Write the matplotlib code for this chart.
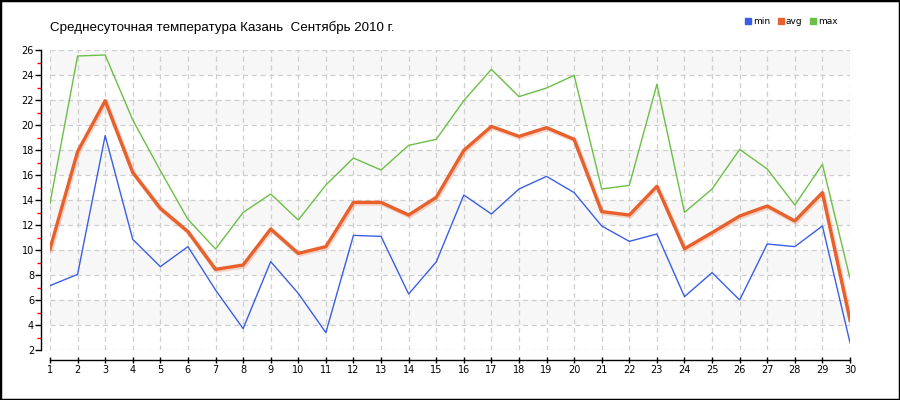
import matplotlib
matplotlib.use("Agg")
import matplotlib.pyplot as plt
from matplotlib.patches import Rectangle
from matplotlib.lines import Line2D
import matplotlib.patheffects as pe

days = list(range(1, 31))
t_min = [7.15, 8.05, 19.15, 10.85, 8.67, 10.27, 6.8, 3.71, 9.07, 6.53,
         3.39, 11.17, 11.09, 6.48, 9.04, 14.4, 12.88, 14.88, 15.89, 14.59,
         11.92, 10.69, 11.28, 6.27, 8.19, 6.0, 10.48, 10.27, 11.92, 2.59]
t_avg = [10.08, 17.87, 21.94, 16.2, 13.33, 11.47, 8.45, 8.8, 11.68, 9.73,
         10.27, 13.81, 13.81, 12.8, 14.21, 17.97, 19.89, 19.09, 19.79, 18.85,
         13.07, 12.8, 15.1, 10.1, 11.39, 12.72, 13.52, 12.32, 14.59, 4.4]
t_max = [13.73, 25.52, 25.6, 20.4, 16.35, 12.45, 10.08, 13.0, 14.48, 12.4,
         15.2, 17.36, 16.4, 18.37, 18.85, 21.95, 24.45, 22.27, 22.96, 23.97,
         14.88, 15.17, 23.25, 13.01, 14.88, 18.05, 16.48, 13.6, 16.85, 7.73]
series_names = ["min", "avg", "max"]
title = "Среднесуточная температура Казань  Сентябрь 2010 г."

c_min, c_avg, c_max = "#3a5fe6", "#e8602c", "#6cbf46"

fig = plt.figure(figsize=(9, 4), dpi=100)
ax = fig.add_axes([50/900, 50/400, 800/900, 300/400])
ax.set_xlim(1, 30)
ax.set_ylim(2, 26)

for lo in range(4, 26, 4):
    ax.axhspan(lo, lo + 2, color="#f7f7f7", zorder=0, lw=0)

ax.set_xticks(days)
ax.set_yticks(range(2, 27, 2))
ax.set_yticks(range(3, 26, 2), minor=True)
ax.grid(True, which="major", color="#cfcfcf", linestyle=(0, (4, 3)), linewidth=0.9)
ax.set_axisbelow(True)

ax.plot(days, t_min, color=c_min, lw=1.0, zorder=3)
ax.plot(days, t_max, color=c_max, lw=1.0, zorder=3)
ax.plot(days, t_avg, color=c_avg, lw=2.4, zorder=4, solid_joinstyle="round",
        path_effects=[pe.SimpleLineShadow(offset=(0.7, -0.9), shadow_color=c_avg, alpha=0.25, linewidth=3.2),
                      pe.Normal()])

for s in ["top", "right"]:
    ax.spines[s].set_visible(False)
ax.spines["left"].set_position(("outward", 6.5))
ax.spines["bottom"].set_position(("outward", 7.2))
ax.spines["left"].set_linewidth(1.0)
ax.spines["bottom"].set_linewidth(1.0)

ax.tick_params(axis="y", which="major", direction="out", length=4, width=1, labelsize=7, pad=1, colors="black")
ax.tick_params(axis="y", which="minor", direction="out", length=3, width=1, color="red")
ax.tick_params(axis="x", which="major", direction="inout", length=5, width=1, labelsize=7, pad=1)

fig.text(50/900, 1 - 28/400, title, fontsize=9.6, va="center", ha="left", family="Liberation Sans")

handles = [Line2D([], [], marker="s", linestyle="none", markersize=4.5, color=c) for c in (c_min, c_avg, c_max)]
fig.legend(handles, series_names, loc="center right", bbox_to_anchor=(846/900, 1 - 22/400),
           ncol=3, frameon=False, fontsize=6.5, handletextpad=0.05, columnspacing=0.7, handlelength=1.0)

fig.patches.append(Rectangle((0, 0), 1, 1, transform=fig.transFigure, fill=False,
                             edgecolor="black", linewidth=2.5, zorder=10))

fig.savefig("out.png", dpi=100)
